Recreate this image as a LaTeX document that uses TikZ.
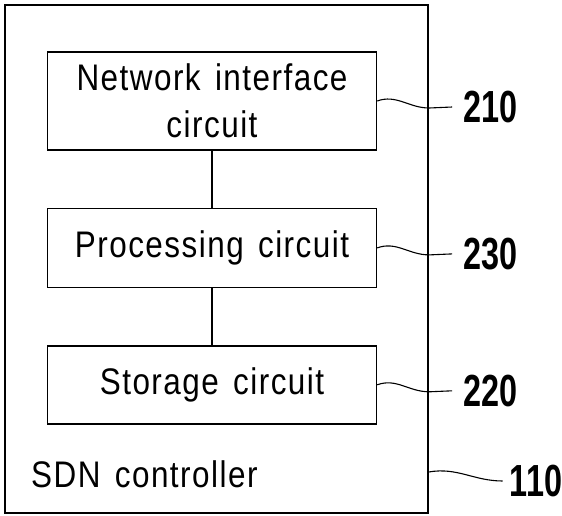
\documentclass[tikz,border=0pt]{standalone}
\usepackage{fontspec}
\setmainfont{Liberation Sans}
\newfontfamily\BoxFont[FakeStretch=0.85,LetterSpace=4,WordSpace=1.4]{Liberation Sans}
\newfontfamily\RefFont[FakeStretch=0.72]{Liberation Sans}
\usetikzlibrary{positioning}
\tikzset{
    Block/.style={draw, line width=1.4pt, minimum width=329pt, align=center, font=\BoxFont\fontsize{37}{47}\selectfont},
    Leader/.style={line width=1.1pt},
    RefNum/.style={anchor=west, inner sep=0pt, font=\RefFont\bfseries\fontsize{45}{45}\selectfont}
}
\newcommand\RefLead[4]{%
    \draw[Leader] (#1) to[out=20,in=180] ++(52,-7) -- ++(23,1) coordinate(#2Tip);
    \node[RefNum] (#2) at ([xshift=#3]#2Tip) {#4};
}

\begin{document}
\begin{tikzpicture}[x=1pt,y=1pt]
    \useasboundingbox (0,0) rectangle (562,515);
    \node[draw, line width=1.4pt, minimum width=423pt, minimum height=508pt] (Ctrl) at (216.5,256) {};
    \node[anchor=base west, inner sep=0pt, font=\BoxFont\fontsize{37}{42}\selectfont] (CtrlName) at (31,28) {SDN controller};
    \node[Block, minimum height=98pt] (NetIf) at (212,414) {Network interface\\circuit};
    \node[Block, minimum height=79pt, below=57pt of NetIf] (Proc) {Processing circuit};
    \node[Block, minimum height=78pt, below=57pt of Proc] (Store) {Storage circuit};
    \draw[line width=1.4pt] (NetIf) -- (Proc);
    \draw[line width=1.4pt] (Proc) -- (Store);
    \RefLead{NetIf.east}{NetIfRef}{11pt}{210}
    \RefLead{Proc.east}{ProcRef}{11pt}{230}
    \RefLead{Store.east}{StoreRef}{11pt}{220}
    \coordinate (CtrlLow) at (0,43);
    \draw[Leader] (Ctrl.east |- CtrlLow) to[out=10,in=180] ++(74,-9) coordinate(CtrlRefTip);
    \node[RefNum] (CtrlRef) at ([xshift=7pt]CtrlRefTip) {110};
\end{tikzpicture}
\end{document}
